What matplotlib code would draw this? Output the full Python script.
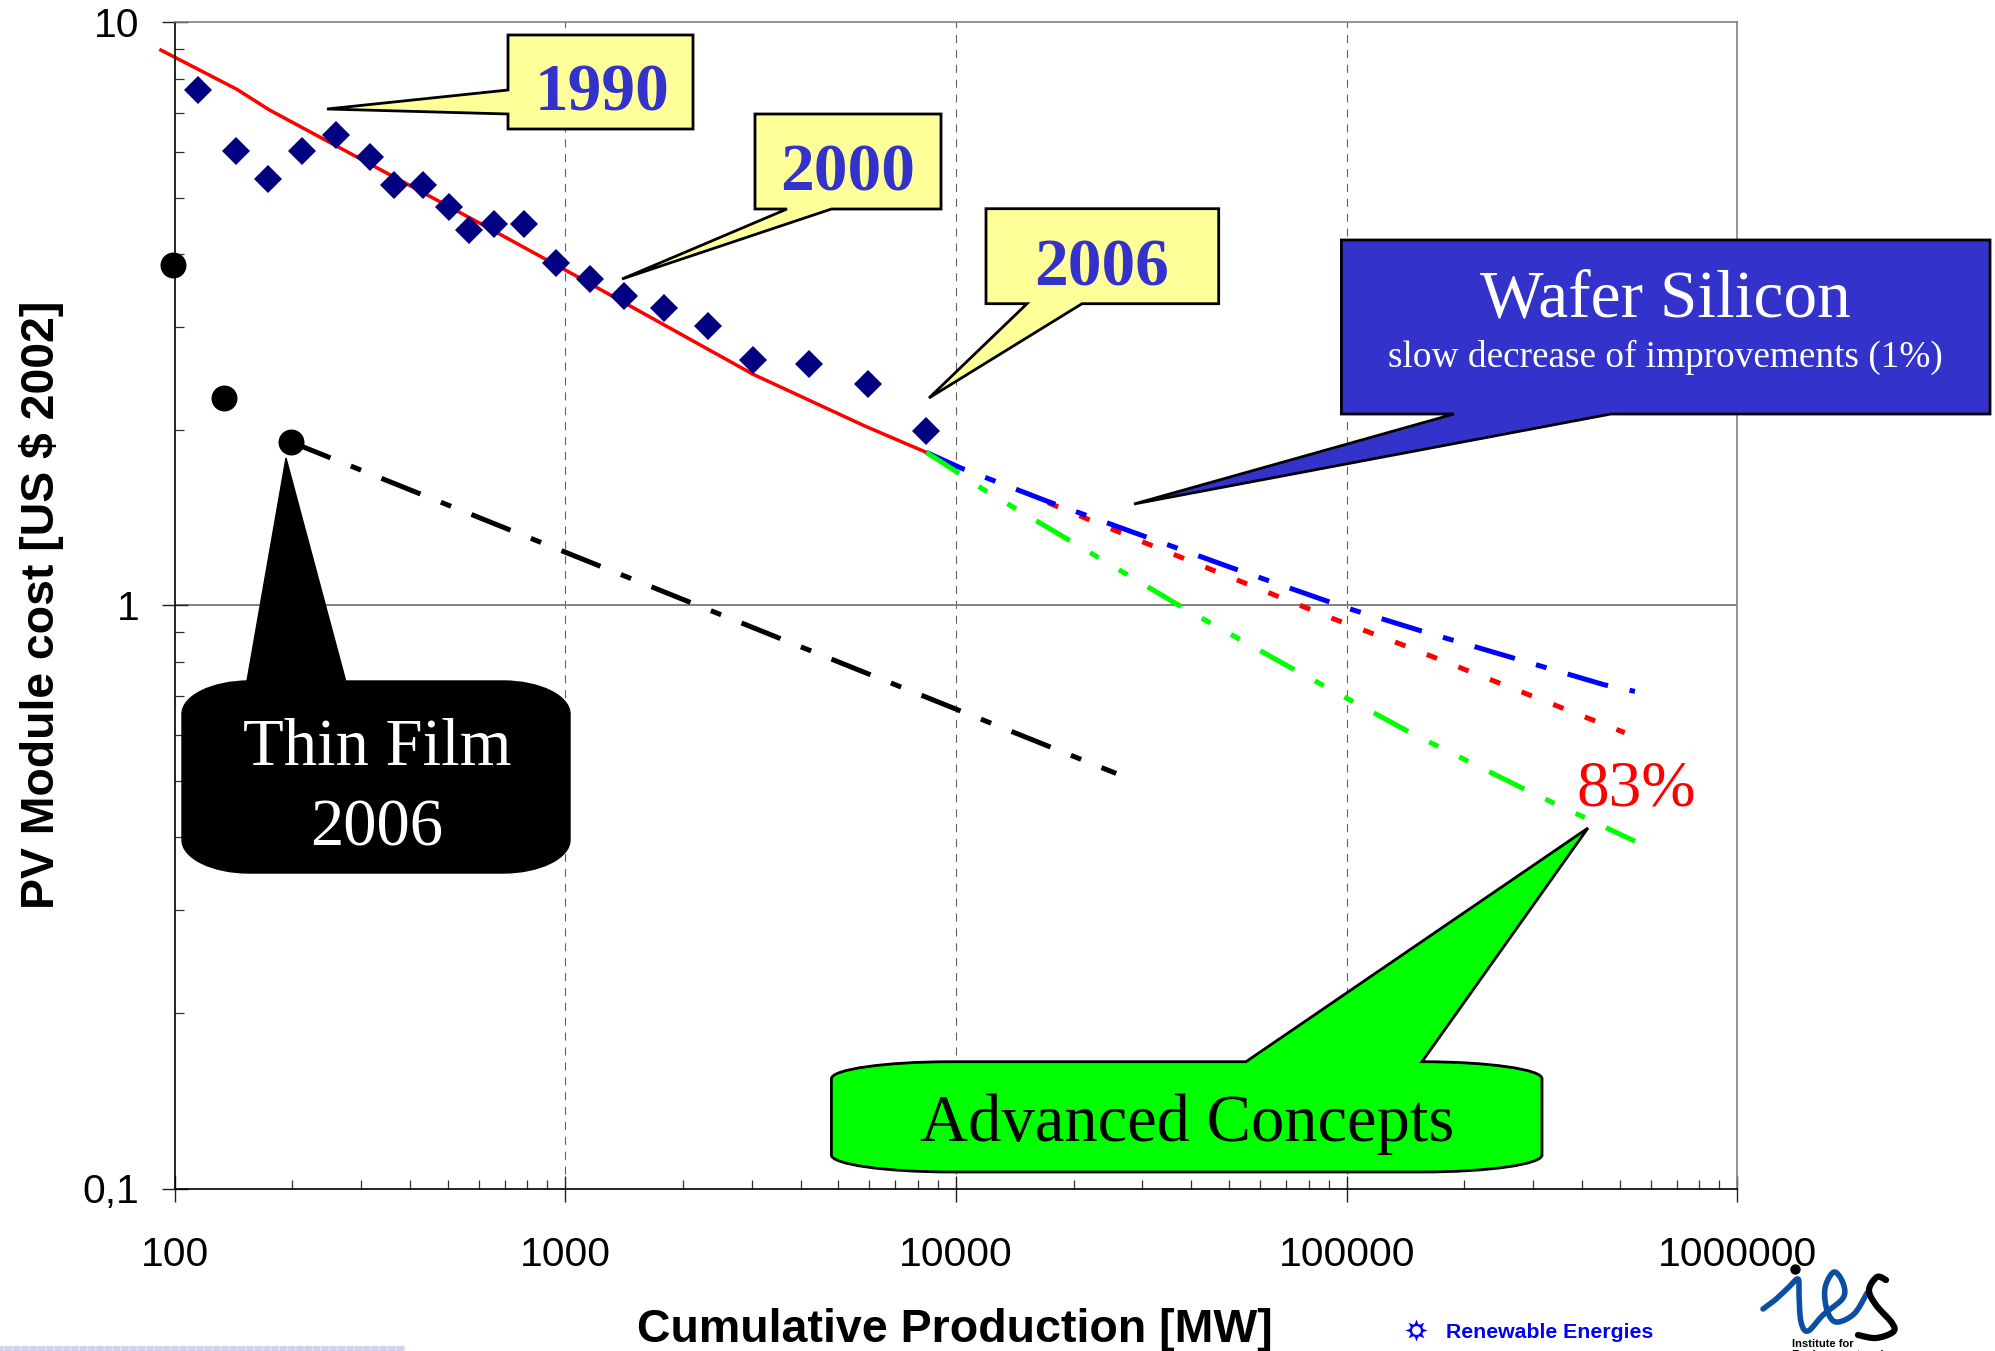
#!/usr/bin/env python3
"""PV module cost learning curve: cost against cumulative production."""

from __future__ import annotations

import matplotlib

matplotlib.use("Agg")

import matplotlib.pyplot as plt
import numpy as np
from matplotlib.patches import PathPatch, Polygon, Rectangle
from matplotlib.path import Path
from matplotlib.ticker import LogLocator, NullFormatter

W, H = 1995, 1351

# values
wafer_x = [115, 143.5, 173.6, 211.8, 258.8, 316, 365, 431, 504, 568, 657, 785, 947,
           1157, 1409, 1791, 2312, 3027, 4210, 5947, 8395]
wafer_y = [7.66, 6.01, 5.39, 6.01, 6.42, 5.88, 5.26, 5.26, 4.82, 4.40, 4.51, 4.51, 3.87,
           3.63, 3.39, 3.24, 3.02, 2.64, 2.59, 2.40, 1.99]

film_x = [99, 133.7, 199]
film_y = [3.83, 2.27, 1.905]

trend_x = [92.2, 144, 175, 292, 605, 1000, 3027, 5850, 8395]
trend_y = [8.96, 7.68, 7.07, 5.88, 4.52, 3.76, 2.49, 2.03, 1.83]

blue_x = [8395, 10300, 17200, 50800, 100000, 152000, 456000, 547000]
blue_y = [1.83, 1.72, 1.507, 1.16, 0.99, 0.908, 0.731, 0.712]

red_x = [17200, 30500, 92700, 137000, 515000]
red_y = [1.50, 1.28, 0.948, 0.859, 0.605]

green_x = [8395, 10100, 11800, 19700, 38200, 75200, 145600, 290600, 547000]
green_y = [1.83, 1.69, 1.578, 1.288, 0.99, 0.769, 0.605, 0.481, 0.394]

black_x = [199, 25700]
black_y = [1.905, 0.515]

x_ticks = [100, 1000, 10000, 100000, 1000000]
x_tick_labels = ["100", "1000", "10000", "100000", "1000000"]
y_ticks = [0.1, 1, 10]
y_tick_labels = ["0,1", "1", "10"]

SERIF = "Liberation Serif"
SANS = "Liberation Sans"
YELLOW = "#FFFF99"
INDIGO = "#3333CC"


def smooth(xs, ys, n=12):
    """Catmull-Rom through a few hand-placed logo points."""
    p = np.column_stack([xs, ys]).astype(float)
    p = np.vstack([p[0], p, p[-1]])
    out = []
    for i in range(1, len(p) - 2):
        for t in np.linspace(0, 1, n, endpoint=False):
            out.append(0.5 * (2 * p[i] + (p[i + 1] - p[i - 1]) * t
                              + (2 * p[i - 1] - 5 * p[i] + 4 * p[i + 1] - p[i + 2]) * t ** 2
                              + (3 * p[i] - p[i - 1] - 3 * p[i + 1] + p[i + 2]) * t ** 3))
    out.append(p[-1])
    out = np.array(out)
    return out[:, 0], out[:, 1]


def box_callout(ax, left, top, right, bottom, base, tip, color):
    """Square-cornered speech box whose tail leaves from the bottom edge."""
    pts = [(left, top), (right, top), (right, bottom), (base[1], bottom), tip,
           (base[0], bottom), (left, bottom)]
    ax.add_patch(Polygon(pts, closed=True, fc=color, ec="black", lw=2.0, joinstyle="miter"))


def round_callout(ax, left, top, right, bottom, rx, ry, base, tip, color, lw):
    """Rounded speech box with elliptic corners and a tail on the top edge."""
    k = 0.55
    verts = [(left + rx, top), (base[0], top), tip, (base[1], top), (right - rx, top),
             (right - rx + k * rx, top), (right, top + ry - k * ry), (right, top + ry),
             (right, bottom - ry),
             (right, bottom - ry + k * ry), (right - rx + k * rx, bottom), (right - rx, bottom),
             (left + rx, bottom),
             (left + rx - k * rx, bottom), (left, bottom - ry + k * ry), (left, bottom - ry),
             (left, top + ry),
             (left, top + ry - k * ry), (left + rx - k * rx, top), (left + rx, top),
             (left + rx, top)]
    codes = [Path.MOVETO] + [Path.LINETO] * 4 + [Path.CURVE4] * 3 + [Path.LINETO] \
        + [Path.CURVE4] * 3 + [Path.LINETO] + [Path.CURVE4] * 3 + [Path.LINETO] \
        + [Path.CURVE4] * 3 + [Path.CLOSEPOLY]
    ax.add_patch(PathPatch(Path(verts, codes), fc=color, ec="black", lw=lw, joinstyle="miter"))


def draw_chart(ax):
    ax.set_xscale("log")
    ax.set_yscale("log")
    ax.set_xlim(100, 1000000)
    ax.set_ylim(0.1, 10)

    for xv in x_ticks[1:-1]:
        ax.axvline(xv, color="#606060", lw=0.8, linestyle=(0, (7.2, 6.2)), zorder=1)
    ax.axhline(1, color="#808080", lw=1.4, zorder=1)

    long_short = (8.4, 4.4, 2.2, 4.4)
    long_short_short = (7.8, 4.7, 2.0, 4.7, 2.0, 4.7)
    ax.plot(red_x, red_y, color="#FF0000", lw=3.6, linestyle=(0, (2.2, 4.6)), zorder=3)
    ax.plot(blue_x, blue_y, color="#0000FF", lw=3.6, linestyle=(0, long_short), zorder=3)
    ax.plot(green_x, green_y, color="#00FF00", lw=3.6, linestyle=(0, long_short_short), zorder=3)
    ax.plot(black_x, black_y, color="black", lw=3.6, linestyle=(0, long_short), zorder=3)
    ax.plot(trend_x, trend_y, color="#FF0000", lw=2.5, clip_on=False, zorder=2)
    ax.plot(wafer_x, wafer_y, "D", color="#000080", ms=14.3, mew=0, clip_on=False, zorder=5)
    ax.plot(film_x, film_y, "o", color="black", ms=18.7, mew=0, clip_on=False, zorder=5)

    ax.set_xticks(x_ticks, x_tick_labels, fontsize=29.3, family=SANS)
    ax.set_yticks(y_ticks, y_tick_labels, fontsize=29.3, family=SANS)
    for axis in (ax.xaxis, ax.yaxis):
        axis.set_minor_locator(LogLocator(base=10, subs=np.arange(2, 10), numticks=20))
        axis.set_minor_formatter(NullFormatter())
    ax.tick_params(which="major", direction="inout", length=18.7, width=1.0, color="#202020")
    ax.tick_params(which="minor", direction="in", length=6.5, width=0.9, color="#303030")
    ax.tick_params(axis="x", which="major", pad=25)
    ax.tick_params(axis="y", which="major", pad=16)

    ax.spines["left"].set_linewidth(1.2)
    ax.spines["bottom"].set_linewidth(1.2)
    ax.spines["top"].set_color("#808080")
    ax.spines["right"].set_color("#808080")
    ax.spines["top"].set_linewidth(1.2)
    ax.spines["right"].set_linewidth(1.2)

    ax.set_xlabel("Cumulative Production [MW]", fontsize=33.5, fontweight="bold", family=SANS,
                  va="center")
    ax.set_ylabel("PV Module cost [US $ 2002]", fontsize=33.4, fontweight="bold", family=SANS,
                  va="center")
    ax.xaxis.set_label_coords(0.4994, -0.121)
    ax.yaxis.set_label_coords(-0.085, 0.5003)


def draw_overlay(ov):
    """Callouts and page furniture, placed in the pixels of the page."""
    ov.add_patch(Polygon([(508, 35), (693, 35), (693, 129), (508, 129), (508, 114), (327, 109),
                          (508, 90)], closed=True, fc=YELLOW, ec="black", lw=2.0))
    box_callout(ov, 755, 114, 941, 209, (787, 831.5), (622, 279), YELLOW)
    box_callout(ov, 986, 208.7, 1218.7, 303.7, (1027, 1082), (929, 398), YELLOW)
    box_callout(ov, 1341.4, 240, 1990, 414, (1454, 1611), (1134, 504), INDIGO)
    round_callout(ov, 182, 681, 570, 873, 67, 33, (247, 345.7), (286, 458), "black", 1.0)
    round_callout(ov, 831.4, 1061.7, 1542, 1172, 120, 17, (1246, 1422), (1588, 828), "#00FF00", 2.0)

    for label, xc, base in [("1990", 602, 110.5), ("2000", 848, 190.7), ("2006", 1101.7, 285)]:
        ov.text(xc, base, label, family=SERIF, fontweight="bold", fontsize=48.5, color=INDIGO,
                ha="center", va="baseline")
    ov.text(1665, 316, "Wafer Silicon", family=SERIF, fontsize=48.5, color="white",
            ha="center", va="baseline")
    ov.text(1665, 367, "slow decrease of improvements (1%)", family=SERIF, fontsize=26.8,
            color="white", ha="center", va="baseline")
    ov.text(377, 765, "Thin Film", family=SERIF, fontsize=48, color="white", ha="center",
            va="baseline")
    ov.text(377, 845, "2006", family=SERIF, fontsize=48, color="white", ha="center",
            va="baseline")
    ov.text(1187.5, 1140.7, "Advanced Concepts", family=SERIF, fontsize=48, color="black",
            ha="center", va="baseline")
    ov.text(1636, 805, "83%", family=SERIF, fontsize=47, color="#FF0000", ha="center",
            va="baseline")

    # footer: strip, sun icon, unit name and logo
    ov.add_patch(Rectangle((0, 1346), 405, 6, fc="#CFCFF0", ec="#E4E4F8", lw=0.3, hatch="||"))
    ov.plot(1416, 1330, marker=(8, 1, 0), color="#0000FF", ms=16, mew=0)
    ov.plot(1416, 1330, "o", mfc="white", mec="#0000FF", ms=8, mew=1.6)
    ov.text(1446, 1332, "Renewable Energies", family=SANS, fontweight="bold", fontsize=15.3,
            color="#0000FF", ha="left", va="center")
    ie_x = [1763, 1775, 1788, 1798, 1799, 1801, 1808, 1823, 1843, 1843, 1834, 1825, 1827,
            1836, 1854, 1867]
    ie_y = [1309, 1300, 1288, 1279, 1295, 1322, 1331, 1315, 1298, 1283, 1272, 1288, 1310,
            1322, 1314, 1293]
    ov.plot(*smooth(ie_x, ie_y), color="#0B4EA2", lw=4, solid_capstyle="round")
    s_x = [1886, 1877, 1869, 1876, 1892, 1893, 1876, 1858]
    s_y = [1280, 1277, 1290, 1305, 1323, 1332, 1338, 1335]
    ov.plot(*smooth(s_x, s_y), color="black", lw=4.5, solid_capstyle="round")
    ov.plot(1795, 1269, "o", color="black", ms=7.5, mew=0)
    ov.text(1792, 1344, "Institute for", family=SANS, fontweight="bold", fontsize=8,
            color="black", ha="left", va="center")
    # second logo line runs off the page, as it does in the original
    ov.text(1792, 1349.5, "Environment and", family=SANS, fontweight="bold", fontsize=8,
            color="black", ha="left", va="top", clip_on=False)


def main() -> None:
    fig = plt.figure(figsize=(W / 100, H / 100), dpi=100)
    ax = fig.add_axes([174.7 / W, 1 - 1188.5 / H, 1562.6 / W, 1166.2 / H])
    draw_chart(ax)

    ov = fig.add_axes([0, 0, 1, 1], zorder=10)
    ov.set_xlim(0, W)
    ov.set_ylim(H, 0)
    ov.axis("off")
    draw_overlay(ov)

    fig.savefig("out.png", dpi=100)
    plt.close(fig)


if __name__ == "__main__":
    main()
